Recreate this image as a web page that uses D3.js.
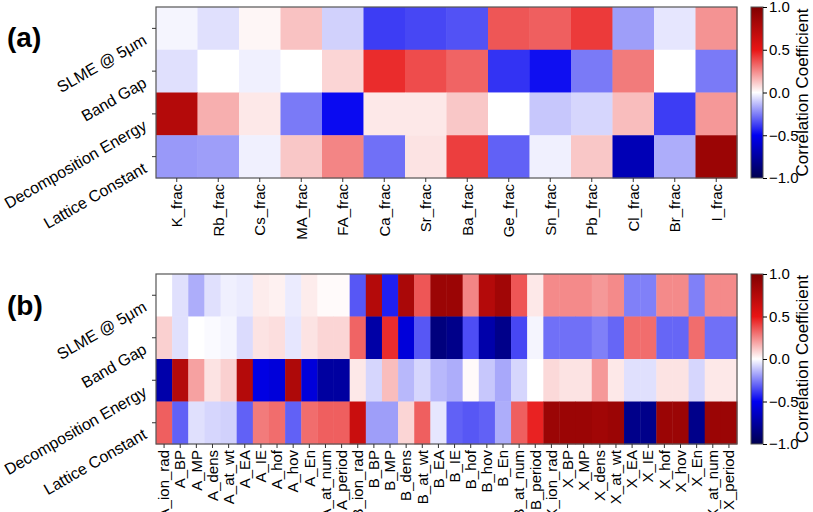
<!DOCTYPE html>
<html><head><meta charset="utf-8">
<script src="https://cdn.jsdelivr.net/npm/d3@7/dist/d3.min.js"></script>
<style>
body{margin:0;background:#fff;}
svg{display:block;}
text{font-family:"Liberation Sans",Arial,sans-serif;fill:#000;}
</style>
</head><body>
<svg id="chart" width="813" height="512"></svg>
<script>
// ---------- data ----------
const targets = ["SLME @ 5μm", "Band Gap", "Decomposition Energy", "Lattice Constant"];

const catsA = ["K_frac","Rb_frac","Cs_frac","MA_frac","FA_frac","Ca_frac","Sr_frac","Ba_frac","Ge_frac","Sn_frac","Pb_frac","Cl_frac","Br_frac","I_frac"];
const a_slme    = [-0.02,-0.06, 0.02, 0.13,-0.09,-0.38,-0.36,-0.34, 0.36, 0.34, 0.42,-0.19,-0.05, 0.23];
const a_gap     = [-0.06, 0.00,-0.03, 0.00, 0.09, 0.45, 0.38, 0.33,-0.40,-0.47,-0.26, 0.28, 0.00,-0.26];
const a_decomp  = [ 0.75, 0.17, 0.05,-0.26,-0.48, 0.05, 0.05, 0.12, 0.00,-0.11,-0.08, 0.14,-0.38, 0.22];
const a_lattice = [-0.20,-0.19,-0.03, 0.12, 0.26,-0.28, 0.06, 0.41,-0.31,-0.03, 0.12,-0.68,-0.16, 0.87];

const catsB = ["A_ion_rad","A_BP","A_MP","A_dens","A_at_wt","A_EA","A_IE","A_hof","A_hov","A_En","A_at_num","A_period",
               "B_ion_rad","B_BP","B_MP","B_dens","B_at_wt","B_EA","B_IE","B_hof","B_hov","B_En","B_at_num","B_period",
               "X_ion_rad","X_BP","X_MP","X_dens","X_at_wt","X_EA","X_IE","X_hof","X_hov","X_En","X_at_num","X_period"];
const b_slme = [ 0.00,-0.06,-0.16,-0.06,-0.03,-0.04, 0.04, 0.03,-0.04, 0.04, 0.01, 0.01,
                -0.33, 0.75,-0.44, 0.80, 0.36, 0.87, 0.87, 0.26, 0.75, 0.84, 0.36, 0.05,
                 0.25, 0.25, 0.25, 0.22, 0.25,-0.25,-0.25, 0.25, 0.25,-0.25, 0.25, 0.25];
const b_gap  = [ 0.10,-0.06, 0.00,-0.01,-0.02,-0.07, 0.06, 0.07,-0.05, 0.06, 0.09, 0.09,
                 0.33,-0.73, 0.45,-0.57,-0.33,-0.86,-0.82,-0.35,-0.72,-0.82,-0.36,-0.02,
                -0.28,-0.28,-0.28,-0.25,-0.30, 0.31, 0.31,-0.30,-0.30, 0.31,-0.28,-0.28];
const b_decomp = [-0.72, 0.75, 0.20, 0.06, 0.10, 0.75,-0.54,-0.57, 0.78,-0.57,-0.75,-0.75,
                   0.05,-0.08, 0.14,-0.14,-0.08,-0.14,-0.16, 0.01,-0.11,-0.17,-0.08, 0.00,
                   0.08, 0.06, 0.06, 0.22, 0.05,-0.06,-0.06, 0.06, 0.06,-0.08, 0.05, 0.05];
const b_lattice = [ 0.34,-0.31,-0.06,-0.08,-0.09,-0.31, 0.28, 0.31,-0.31, 0.31, 0.34, 0.34,
                    0.65,-0.19,-0.19, 0.09, 0.34,-0.05,-0.31,-0.33,-0.31,-0.16, 0.34, 0.47,
                    0.87, 0.87, 0.87, 0.84, 0.87,-0.82,-0.82, 0.87, 0.87,-0.82, 0.87, 0.87];

const cbTicks = [1.0, 0.5, 0.0, -0.5, -1.0];

// ---------- colour scale (seismic-like) ----------
const cdom = [-1, -0.5, 0, 0.5, 1];
const crng = ["#000050", "#0000f0", "#ffffff", "#e81414", "#800000"];
const color = d3.scaleLinear().domain(cdom).range(crng).interpolate(d3.interpolateRgb).clamp(true);

const svg = d3.select("#chart");
const fmt = v => (v < 0 ? "\u2212" : "") + Math.abs(v).toFixed(1);

// gradient for colorbar
const defs = svg.append("defs");
const grad = defs.append("linearGradient").attr("id","cbgrad").attr("x1",0).attr("y1",1).attr("x2",0).attr("y2",0);
d3.range(0, 1.0001, 0.05).forEach(t => {
  grad.append("stop").attr("offset", t).attr("stop-color", color(-1 + 2*t));
});

function panel(cfg) {
  const {cats, rows, x0, x1, y0, y1, tag, tagY} = cfg;
  const x = d3.scaleBand().domain(cats).range([x0, x1]);
  const y = d3.scaleBand().domain(targets).range([y0, y1]);
  const g = svg.append("g");
  const cells = [];
  rows.forEach((arr, i) => arr.forEach((v, j) => cells.push({t: targets[i], c: cats[j], v})));
  g.selectAll("rect.cell").data(cells).enter().append("rect")
    .attr("class","cell")
    .attr("x", d => x(d.c)).attr("y", d => y(d.t))
    .attr("width", x.bandwidth() + 0.4).attr("height", y.bandwidth() + 0.4)
    .attr("fill", d => color(d.v));
  // frame
  g.append("rect").attr("x", x0).attr("y", y0).attr("width", x1 - x0).attr("height", y1 - y0)
    .attr("fill","none").attr("stroke","#555").attr("stroke-width",1.2);

  // y ticks
  targets.forEach(t => {
    const yc = y(t) + y.bandwidth()/2;
    g.append("line").attr("x1", x0 - 4).attr("x2", x0).attr("y1", yc).attr("y2", yc).attr("stroke","#333");
    g.append("text")
      .attr("transform", `translate(${x0 - 11},${yc + 10}) rotate(-30)`)
      .attr("text-anchor","end").attr("dy","0.35em")
      .style("font-size","16px").text(t);
  });
  // x ticks
  cats.forEach(c => {
    const xc = x(c) + x.bandwidth()/2;
    g.append("line").attr("x1", xc).attr("x2", xc).attr("y1", y1).attr("y2", y1 + 4).attr("stroke","#333");
    g.append("text")
      .attr("transform", `translate(${xc},${y1 + 6}) rotate(-90)`)
      .attr("text-anchor","end").attr("dy","0.35em")
      .style("font-size","15px").text(c);
  });

  // colorbar
  const cbx = 751, cbw = 12;
  const cy = d3.scaleLinear().domain([-1, 1]).range([y1, y0]);
  g.append("rect").attr("x", cbx).attr("y", y0).attr("width", cbw).attr("height", y1 - y0)
    .attr("fill","url(#cbgrad)").attr("stroke","#555").attr("stroke-width",1);
  const ax = d3.axisRight(cy).tickValues(cbTicks).tickSize(4).tickPadding(2).tickFormat(fmt);
  const axg = g.append("g").attr("transform", `translate(${cbx + cbw},0)`).call(ax);
  axg.select(".domain").remove();
  axg.selectAll("text").style("font-size","15px").style("font-family",'"Liberation Sans",Arial,sans-serif');
  g.append("text").attr("transform", `translate(808,${(y0 + y1)/2}) rotate(-90)`)
    .attr("text-anchor","middle").style("font-size","17px").text("Correlation Coefficient");

  // panel tag
  g.append("text").attr("x", 7).attr("y", tagY).style("font-size","28px").style("font-weight","bold").text(tag);
}

panel({cats: catsA, rows: [a_slme, a_gap, a_decomp, a_lattice], x0: 156, x1: 737, y0: 7, y1: 178, tag: "(a)", tagY: 47});
panel({cats: catsB, rows: [b_slme, b_gap, b_decomp, b_lattice], x0: 156, x1: 737, y0: 274, y1: 444, tag: "(b)", tagY: 315});
</script>
</body></html>
